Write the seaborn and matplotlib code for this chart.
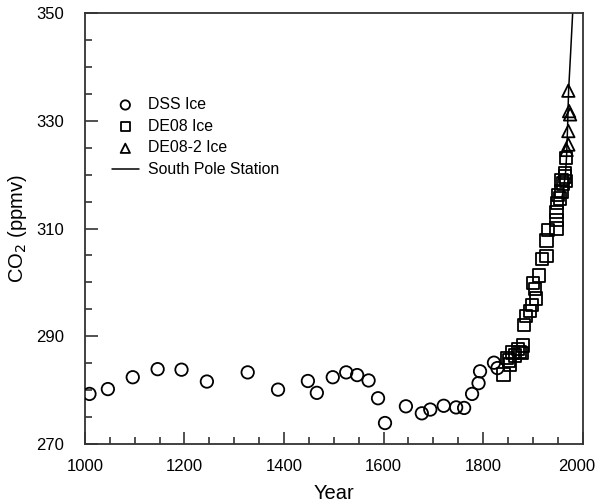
import numpy as np
import pandas as pd
import matplotlib
matplotlib.use("Agg")
import matplotlib.pyplot as plt
import seaborn as sns
from matplotlib.ticker import MultipleLocator, FixedLocator

# DSS ice core
dss_year = [1009, 1046, 1096, 1146, 1194, 1245, 1327, 1388, 1448, 1466, 1498, 1525,
            1547, 1570, 1589, 1603, 1645, 1677, 1694, 1721, 1746, 1762, 1778, 1791,
            1794, 1822, 1829]
dss_co2 = [279.3, 280.2, 282.4, 283.9, 283.8, 281.6, 283.3, 280.1, 281.7, 279.5, 282.4, 283.3,
           282.8, 281.8, 278.5, 273.9, 277.0, 275.7, 276.4, 277.1, 276.8, 276.7, 279.3, 281.3,
           283.5, 285.1, 284.1]

# DE08 ice core
de08_year = [1841, 1848, 1852, 1854, 1859, 1864, 1870, 1874, 1878, 1880, 1882, 1886,
             1894, 1898, 1901, 1905, 1906, 1913, 1918, 1928, 1928, 1931, 1948, 1948,
             1948, 1949, 1951, 1955, 1958, 1958, 1961, 1965, 1965, 1967, 1967]
de08_co2 = [282.9, 286.0, 285.5, 284.8, 287.0, 286.4, 287.6, 287.1, 286.9, 288.3, 292.1, 293.8,
            294.7, 295.8, 299.9, 298.8, 297.0, 301.3, 304.4, 304.9, 307.8, 309.7, 310.0, 311.6,
            313.1, 314.7, 316.2, 315.6, 316.9, 319.0, 318.4, 320.3, 319.7, 318.8, 323.1]

# DE08-2 ice core
de082_year = [1968, 1971.5, 1971.5, 1971.5, 1973, 1975]
de082_co2 = [324.6, 325.6, 328.1, 335.6, 331.8, 331.2]

# South Pole station
sp_year = [1958, 1962, 1966, 1968, 1970, 1972, 1976, 1981]
sp_co2 = [315.5, 317.5, 320.5, 323.5, 329.0, 335.6, 342.5, 351.5]

x_major = [1000, 1200, 1400, 1600, 1800, 2000]
x_labels = ["1000", "1200", "1400", "1600", "1800", ""]
y_major = [270, 290, 310, 330, 350]

sns.set_style("ticks")
plt.rcParams["font.family"] = ["Liberation Sans", "DejaVu Sans"]
plt.rcParams["text.color"] = "black"
plt.rcParams["axes.labelcolor"] = "black"

fig = plt.figure(figsize=(5.96, 5.04), dpi=100)
ax = fig.add_axes([0.1426, 0.119, 0.8348, 0.855])

mk = dict(s=80, facecolor="none", edgecolor="black", linewidth=1.3, zorder=3)
sns.scatterplot(x=dss_year, y=dss_co2, marker="o", label="DSS Ice", ax=ax, **mk)
sns.scatterplot(x=de08_year, y=de08_co2, marker="s", label="DE08 Ice", ax=ax, **mk)
sns.scatterplot(x=de082_year, y=de082_co2, marker="^", label="DE08-2 Ice", ax=ax, **mk)
sns.lineplot(x=sp_year, y=sp_co2, color="black", linewidth=1.1, label="South Pole Station",
             ax=ax, zorder=2)

ax.set_xlim(1000, 2000)
ax.set_ylim(270, 350)
ax.set_xticks(x_major, x_labels)
ax.xaxis.set_minor_locator(MultipleLocator(50))
ax.yaxis.set_major_locator(FixedLocator(y_major))
ax.yaxis.set_minor_locator(MultipleLocator(5))
ax.tick_params(which="major", direction="in", length=9, width=1.2, color="#333333",
               labelsize=12, labelcolor="black")
ax.tick_params(axis="x", which="major", pad=11)
ax.tick_params(axis="y", which="major", pad=15)
ax.tick_params(which="minor", direction="in", length=5, width=1.2, color="#333333")
for sp in ax.spines.values():
    sp.set_visible(True)
    sp.set_linewidth(1.3)
    sp.set_color("#333333")

# last x label nudged left so it stays inside the figure
ax.annotate(str(x_major[-1]), xy=(x_major[-1], 0), xycoords=("data", "axes fraction"),
            xytext=(-4, -11), textcoords="offset points", ha="center", va="top",
            fontsize=12)

ax.set_xlabel("Year", fontsize=14.5)
ax.set_ylabel("CO$_2$ (ppmv)", fontsize=14.5)
ax.xaxis.set_label_coords(0.5, -0.114)
ax.yaxis.set_label_coords(-0.135, 0.5)
ax.xaxis.label.set_va("center")
ax.yaxis.label.set_va("center")

ax.legend(frameon=False, loc="upper left", bbox_to_anchor=(0.054, 0.805),
          borderpad=0, borderaxespad=0, fontsize=11.4, markerscale=0.75,
          handlelength=1.7, handletextpad=0.6, labelspacing=0.42)

fig.savefig("out.png", dpi=100)
